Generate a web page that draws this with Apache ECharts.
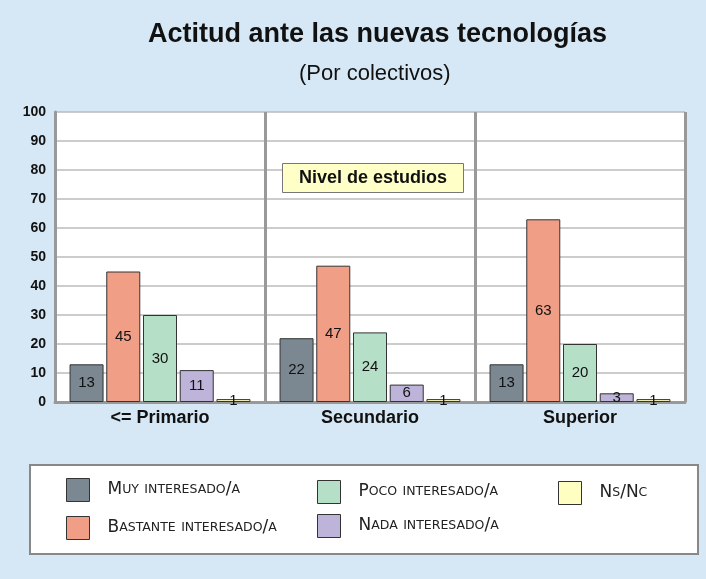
<!DOCTYPE html>
<html><head><meta charset="utf-8">
<script src="https://cdn.jsdelivr.net/npm/echarts@6/dist/echarts.min.js"></script>
<style>html,body{margin:0;padding:0;background:#d6e8f5;}#c{width:706px;height:579px;}</style>
</head><body><div id="c"></div>
<script>
const categories = ['<= Primario', 'Secundario', 'Superior'];
const seriesNames = ['Muy interesado/a', 'Bastante interesado/a', 'Poco interesado/a', 'Nada interesado/a', 'Ns/Nc'];
const muy = [13, 22, 13];
const bastante = [45, 47, 63];
const poco = [30, 24, 20];
const nada = [11, 6, 3];
const nsnc = [1, 1, 1];
const yTicks = [0, 10, 20, 30, 40, 50, 60, 70, 80, 90, 100];
const colors = ['#7b8791', '#f09e86', '#b6dfc8', '#beb3d9', '#ffffc2'];
const values = [muy, bastante, poco, nada, nsnc];

function smallCaps(name) {
  let out = '';
  let run = '', runType = null;
  for (const ch of name) {
    const t = (ch >= 'a' && ch <= 'z') ? 's' : 'b';
    if (t !== runType && run) { out += '{' + runType + '|' + run + '}'; run = ''; }
    runType = t;
    run += t === 's' ? ch.toUpperCase() : ch;
  }
  if (run) out += '{' + runType + '|' + run + '}';
  return out;
}
const legendText = {
  color: '#222',
  padding: [0, 0, 0, 13],
  rich: {
    b: { fontSize: 17, fontFamily: 'DejaVu Sans', color: '#222' },
    s: { fontSize: 12.5, fontFamily: 'DejaVu Sans', color: '#222' }
  }
};
function mkLegend(data, left, top, gap) {
  return {
    data: data, orient: 'vertical', left: left, top: top, padding: 0,
    itemWidth: 23, itemHeight: 23, itemGap: gap,
    icon: 'rect', selectedMode: false,
    formatter: smallCaps, textStyle: legendText,
    itemStyle: { borderColor: '#333', borderWidth: 1 }
  };
}

const chart = echarts.init(document.getElementById('c'));
chart.setOption({
  backgroundColor: '#d6e8f5',
  title: [
    { text: 'Actitud ante las nuevas tecnologías', left: 143, top: 16,
      textStyle: { fontFamily: 'Liberation Sans', fontWeight: 'bold', fontSize: 27, color: '#111' } },
    { text: '(Por colectivos)', left: 294, top: 58,
      textStyle: { fontFamily: 'Liberation Sans', fontWeight: 'normal', fontSize: 22, color: '#111' } },
    { text: 'Nivel de estudios', left: 282, top: 163,
      backgroundColor: '#ffffc8', borderColor: '#777', borderWidth: 1,
      padding: [5, 17, 5, 17],
      textStyle: { fontFamily: 'Liberation Sans', fontWeight: 'bold', fontSize: 18, lineHeight: 20, color: '#111' } }
  ],
  graphic: [{
    type: 'rect', left: 29, top: 464, shape: { width: 668, height: 89 },
    style: { fill: '#fff', stroke: '#888', lineWidth: 2 }, z: -1
  }],
  legend: [
    mkLegend([seriesNames[0], seriesNames[1]], 66, 478, 14),
    mkLegend([seriesNames[2], seriesNames[3]], 317, 480, 10),
    mkLegend([seriesNames[4]], 558, 481, 10)
  ],
  grid: { left: 55, right: 21, top: 112, bottom: 177, backgroundColor: '#fff', show: true, borderWidth: 0 },
  xAxis: {
    type: 'category', data: categories,
    axisLine: { lineStyle: { color: '#999', width: 3 } },
    axisTick: { show: false },
    axisLabel: { fontFamily: 'Liberation Sans', fontWeight: 'bold', fontSize: 18, color: '#111', margin: 7 },
    splitLine: { show: true, lineStyle: { color: '#999', width: 3 } }
  },
  yAxis: {
    type: 'value', min: 0, max: 100, interval: 10,
    axisLine: { show: true, lineStyle: { color: '#999', width: 3 } },
    axisTick: { show: false },
    axisLabel: { fontFamily: 'Liberation Sans', fontWeight: 'bold', fontSize: 14, color: '#111', margin: 9,
      formatter: v => yTicks.includes(v) ? String(v) : '' },
    splitLine: { lineStyle: { color: '#bbb', width: 1.5 } }
  },
  series: seriesNames.map((n, i) => ({
    name: n, type: 'bar', data: values[i],
    barWidth: 34, barGap: '8%',
    itemStyle: { color: colors[i], borderColor: '#333', borderWidth: 1 },
    label: { show: true, position: 'inside', fontFamily: 'Liberation Sans', fontSize: 15, color: '#111' }
  }))
});
</script></body></html>
